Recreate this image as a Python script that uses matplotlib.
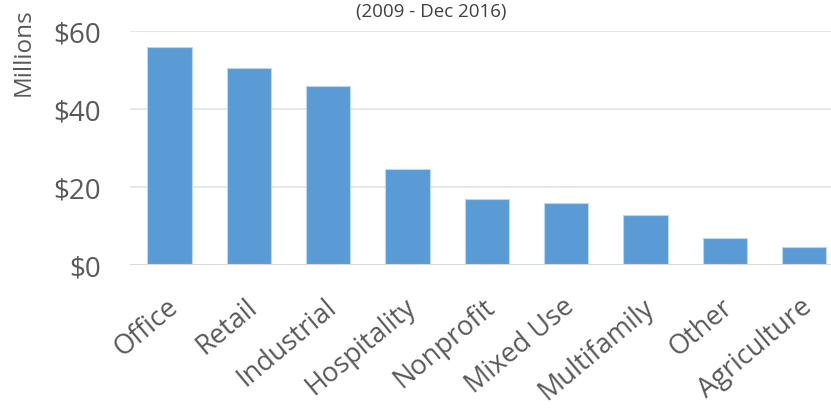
import matplotlib.pyplot as plt
from matplotlib.ticker import FuncFormatter
from matplotlib.transforms import ScaledTranslation

# data (millions of dollars)
categories = ["Office", "Retail", "Industrial", "Hospitality", "Nonprofit",
              "Mixed Use", "Multifamily", "Other", "Agriculture"]
values = [55.9, 50.5, 45.9, 24.7, 17.0, 16.0, 12.9, 6.8, 4.6]
yticks = [0, 20, 40, 60]

plt.rcParams['font.family'] = ['Open Sans', 'DejaVu Sans']

fig = plt.figure(figsize=(8.31, 4.14), dpi=100)
ax = fig.add_axes([0.1564, 0.3575, 0.8589, 0.5652])

x = range(len(categories))
ax.bar(x, values, width=0.56, color="#5B9BD5", edgecolor="#BDD7EE",
       linewidth=0.8, zorder=3)

ax.set_xlim(-0.5, 8.5)
ax.set_ylim(0, 60)
ax.set_yticks(yticks)
ax.yaxis.set_major_formatter(FuncFormatter(lambda v, p: f"${v:.0f}"))
ax.grid(axis="y", color="#E3E3E3", linewidth=1.2, zorder=0)
ax.axhline(0, color="#D9D9D9", linewidth=1.5, zorder=4)
for s in ax.spines.values():
  s.set_visible(False)

ax.set_xticks(list(x))
ax.set_xticklabels(categories, rotation=40, ha="right", rotation_mode="anchor")
ax.tick_params(axis="both", length=0, labelsize=20, labelcolor="#595959")
ax.tick_params(axis="y", pad=21)
ax.tick_params(axis="x", labelsize=19.5, pad=8)
# nudge the rotated labels down and left like the original
shift = ScaledTranslation(-4/100, -16/100, fig.dpi_scale_trans)
for lbl in ax.get_xticklabels():
  lbl.set_transform(lbl.get_transform() + shift)

fig.text(24/831, 1 - 52/414, "Millions", rotation=90, ha="center", va="center",
         fontsize=17.5, color="#595959")
fig.text(431/831, 1 - 12/414, "(2009 - Dec 2016)", ha="center", va="center",
         fontsize=13.5, color="#404040")

fig.savefig("out.png", dpi=100)
